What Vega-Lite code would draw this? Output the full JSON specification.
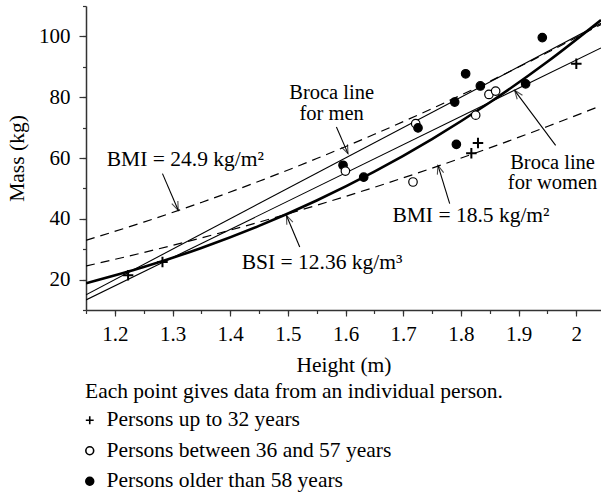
{
  "$schema": "https://vega.github.io/schema/vega-lite/v6.json",
  "width": 515,
  "height": 304,
  "autosize": {"type": "none"},
  "padding": {"left": 86, "top": 6, "right": 0, "bottom": 184},
  "background": "white",
  "datasets": {
    "curves": [
      {"s": "BMI 24.9", "h": 1.15, "m": 32.93}, {"s": "BMI 24.9", "h": 1.25, "m": 38.91}, {"s": "BMI 24.9", "h": 1.35, "m": 45.38}, {"s": "BMI 24.9", "h": 1.45, "m": 52.35}, {"s": "BMI 24.9", "h": 1.55, "m": 59.82}, {"s": "BMI 24.9", "h": 1.65, "m": 67.79}, {"s": "BMI 24.9", "h": 1.75, "m": 76.26}, {"s": "BMI 24.9", "h": 1.85, "m": 85.22}, {"s": "BMI 24.9", "h": 1.95, "m": 94.68}, {"s": "BMI 24.9", "h": 2.043, "m": 103.93},
      {"s": "BMI 18.5", "h": 1.15, "m": 24.47}, {"s": "BMI 18.5", "h": 1.25, "m": 28.91}, {"s": "BMI 18.5", "h": 1.35, "m": 33.72}, {"s": "BMI 18.5", "h": 1.45, "m": 38.9}, {"s": "BMI 18.5", "h": 1.55, "m": 44.45}, {"s": "BMI 18.5", "h": 1.65, "m": 50.37}, {"s": "BMI 18.5", "h": 1.75, "m": 56.66}, {"s": "BMI 18.5", "h": 1.85, "m": 63.32}, {"s": "BMI 18.5", "h": 1.95, "m": 70.35}, {"s": "BMI 18.5", "h": 2.043, "m": 77.22},
      {"s": "BSI", "h": 1.15, "m": 18.8}, {"s": "BSI", "h": 1.25, "m": 24.14}, {"s": "BSI", "h": 1.35, "m": 30.41}, {"s": "BSI", "h": 1.45, "m": 37.68}, {"s": "BSI", "h": 1.55, "m": 46.03}, {"s": "BSI", "h": 1.65, "m": 55.52}, {"s": "BSI", "h": 1.75, "m": 66.24}, {"s": "BSI", "h": 1.85, "m": 78.26}, {"s": "BSI", "h": 1.95, "m": 91.65}, {"s": "BSI", "h": 2.043, "m": 105.39},
      {"s": "Broca men", "h": 1.15, "m": 15.0}, {"s": "Broca men", "h": 2.043, "m": 104.3},
      {"s": "Broca women", "h": 1.15, "m": 13.3}, {"s": "Broca women", "h": 2.043, "m": 96.2}
    ],
    "arrows": [
      {"lab": "a1", "h1": 1.2826, "m1": 54.86, "h2": 1.3099, "m2": 42.8},
      {"lab": "a2", "h1": 1.5842, "m1": 70.18, "h2": 1.6043, "m2": 61.43},
      {"lab": "a3", "h1": 1.5206, "m1": 30.7, "h2": 1.4976, "m2": 41.1},
      {"lab": "a4", "h1": 1.7806, "m1": 45.0, "h2": 1.7603, "m2": 57.58},
      {"lab": "a5", "h1": 1.9643, "m1": 64.16, "h2": 1.8932, "m2": 82.25}
    ],
    "labels": [
      {"t": "BMI = 24.9 kg/m²", "h": 1.186, "m": 57.25, "pos": "left"},
      {"t": "BSI = 12.36 kg/m³", "h": 1.42, "m": 23.6, "pos": "left"},
      {"t": "BMI = 18.5 kg/m²", "h": 1.6813, "m": 38.94, "pos": "left"},
      {"t": "Broca line\nfor men", "h": 1.576, "m": 79.3, "pos": "center"},
      {"t": "Broca line\nfor women", "h": 1.959, "m": 56.5, "pos": "center"}
    ],
    "pts": [
      {"g": "Persons up to 32 years", "h": 1.223, "m": 21.4},
      {"g": "Persons up to 32 years", "h": 1.2826, "m": 25.8},
      {"g": "Persons up to 32 years", "h": 1.8297, "m": 64.9},
      {"g": "Persons up to 32 years", "h": 1.8182, "m": 61.6},
      {"g": "Persons up to 32 years", "h": 2.0002, "m": 91.0},
      {"g": "Persons older than 58 years", "h": 1.5957, "m": 57.6},
      {"g": "Persons between 36 and 57 years", "h": 1.5998, "m": 55.7},
      {"g": "Persons between 36 and 57 years", "h": 1.7217, "m": 71.3},
      {"g": "Persons older than 58 years", "h": 1.7257, "m": 69.9},
      {"g": "Persons between 36 and 57 years", "h": 1.717, "m": 52.1},
      {"g": "Persons between 36 and 57 years", "h": 1.8257, "m": 74.1},
      {"g": "Persons between 36 and 57 years", "h": 1.8487, "m": 80.9},
      {"g": "Persons between 36 and 57 years", "h": 1.8603, "m": 82.0},
      {"g": "Persons older than 58 years", "h": 1.6315, "m": 53.7},
      {"g": "Persons older than 58 years", "h": 1.7922, "m": 64.5},
      {"g": "Persons older than 58 years", "h": 1.7893, "m": 78.4},
      {"g": "Persons older than 58 years", "h": 1.8083, "m": 87.7},
      {"g": "Persons older than 58 years", "h": 1.8338, "m": 83.7},
      {"g": "Persons older than 58 years", "h": 1.9123, "m": 84.4},
      {"g": "Persons older than 58 years", "h": 1.9412, "m": 99.6}
    ]
  },
  "config": {
    "font": "Liberation Serif",
    "view": {"stroke": null},
    "axis": {
      "grid": false,
      "domainColor": "#333333",
      "domainWidth": 1.5,
      "tickColor": "#333333",
      "tickWidth": 1.2,
      "labelFont": "Liberation Serif",
      "labelFontSize": 21,
      "labelColor": "black",
      "titleFont": "Liberation Serif",
      "titleFontSize": 21.5,
      "titleFontWeight": "normal",
      "titleColor": "black"
    },
    "legend": {
      "titleFont": "Liberation Serif",
      "titleFontSize": 21.5,
      "titleFontWeight": "normal",
      "titleColor": "black",
      "titleLimit": 0,
      "labelFont": "Liberation Serif",
      "labelFontSize": 21.5,
      "labelColor": "black",
      "labelLimit": 0,
      "symbolSize": 62,
      "symbolStrokeWidth": 1.6,
      "symbolOffset": -6,
      "labelOffset": 6,
      "padding": 0,
      "rowPadding": 7.5,
      "titlePadding": 7
    }
  },
  "resolve": {"axis": {"x": "independent", "y": "independent"}},
  "layer": [
    {
      "layer": [
        {
          "data": {"name": "curves"},
          "transform": [{"filter": "datum.s == 'BMI 24.9' || datum.s == 'BMI 18.5'"}],
          "mark": {"type": "line", "color": "black", "strokeWidth": 1.2, "strokeDash": [9, 6], "interpolate": "monotone", "clip": true},
          "encoding": {
            "x": {
              "field": "h", "type": "quantitative", "title": "Height (m)",
              "scale": {"domain": [1.15, 2.043], "nice": false, "zero": false},
              "axis": {
                "orient": "bottom",
                "values": [1.2, 1.3, 1.4, 1.5, 1.6, 1.7, 1.8, 1.9, 2.0],
                "format": "~g",
                "tickSize": 6,
                "labelPadding": 7,
                "titlePadding": 10,
                "labelFlush": false,
                "labelOverlap": false
              }
            },
            "y": {
              "field": "m", "type": "quantitative", "title": "Mass (kg)",
              "scale": {"domain": [10, 110], "nice": false, "zero": false},
              "axis": {
                "orient": "left",
                "values": [20, 40, 60, 80, 100],
                "tickSize": 7,
                "labelPadding": 9,
                "titlePadding": 10,
                "labelFlush": false,
                "labelOverlap": false
              }
            },
            "detail": {"field": "s"}
          }
        },
        {
          "data": {"name": "curves"},
          "transform": [{"filter": "datum.s == 'Broca men' || datum.s == 'Broca women'"}],
          "mark": {"type": "line", "color": "black", "strokeWidth": 1.1, "clip": true},
          "encoding": {
            "x": {"field": "h", "type": "quantitative", "title": "Height (m)"},
            "y": {"field": "m", "type": "quantitative", "title": "Mass (kg)"},
            "detail": {"field": "s"}
          }
        },
        {
          "data": {"name": "curves"},
          "transform": [{"filter": "datum.s == 'BSI'"}],
          "mark": {"type": "line", "color": "black", "strokeWidth": 2.6, "interpolate": "monotone", "clip": true},
          "encoding": {
            "x": {"field": "h", "type": "quantitative", "title": "Height (m)"},
            "y": {"field": "m", "type": "quantitative", "title": "Mass (kg)"}
          }
        },
        {
          "data": {"name": "arrows"},
          "mark": {"type": "rule", "color": "black", "strokeWidth": 1.1},
          "encoding": {
            "x": {"field": "h1", "type": "quantitative", "title": "Height (m)"},
            "y": {"field": "m1", "type": "quantitative", "title": "Mass (kg)"},
            "x2": {"field": "h2"},
            "y2": {"field": "m2"}
          }
        },
        {
          "data": {"name": "arrows"},
          "transform": [{"filter": "datum.lab == 'a1'"}],
          "mark": {"type": "point", "shape": "M-0.38,1L0,0L0.38,1", "angle": 157, "size": 300, "filled": false, "stroke": "black", "strokeWidth": 1.1},
          "encoding": {"x": {"field": "h2", "type": "quantitative", "title": "Height (m)"}, "y": {"field": "m2", "type": "quantitative", "title": "Mass (kg)"}}
        },
        {
          "data": {"name": "arrows"},
          "transform": [{"filter": "datum.lab == 'a2'"}],
          "mark": {"type": "point", "shape": "M-0.38,1L0,0L0.38,1", "angle": 156, "size": 300, "filled": false, "stroke": "black", "strokeWidth": 1.1},
          "encoding": {"x": {"field": "h2", "type": "quantitative", "title": "Height (m)"}, "y": {"field": "m2", "type": "quantitative", "title": "Mass (kg)"}}
        },
        {
          "data": {"name": "arrows"},
          "transform": [{"filter": "datum.lab == 'a3'"}],
          "mark": {"type": "point", "shape": "M-0.38,1L0,0L0.38,1", "angle": 337, "size": 300, "filled": false, "stroke": "black", "strokeWidth": 1.1},
          "encoding": {"x": {"field": "h2", "type": "quantitative", "title": "Height (m)"}, "y": {"field": "m2", "type": "quantitative", "title": "Mass (kg)"}}
        },
        {
          "data": {"name": "arrows"},
          "transform": [{"filter": "datum.lab == 'a4'"}],
          "mark": {"type": "point", "shape": "M-0.38,1L0,0L0.38,1", "angle": 343, "size": 300, "filled": false, "stroke": "black", "strokeWidth": 1.1},
          "encoding": {"x": {"field": "h2", "type": "quantitative", "title": "Height (m)"}, "y": {"field": "m2", "type": "quantitative", "title": "Mass (kg)"}}
        },
        {
          "data": {"name": "arrows"},
          "transform": [{"filter": "datum.lab == 'a5'"}],
          "mark": {"type": "point", "shape": "M-0.38,1L0,0L0.38,1", "angle": 323, "size": 300, "filled": false, "stroke": "black", "strokeWidth": 1.1},
          "encoding": {"x": {"field": "h2", "type": "quantitative", "title": "Height (m)"}, "y": {"field": "m2", "type": "quantitative", "title": "Mass (kg)"}}
        },
        {
          "data": {"name": "labels"},
          "transform": [{"filter": "datum.pos == 'left'"}],
          "mark": {"type": "text", "font": "Liberation Serif", "fontSize": 21.5, "color": "black", "align": "left", "baseline": "alphabetic"},
          "encoding": {
            "x": {"field": "h", "type": "quantitative", "title": "Height (m)"},
            "y": {"field": "m", "type": "quantitative", "title": "Mass (kg)"},
            "text": {"field": "t"}
          }
        },
        {
          "data": {"name": "labels"},
          "transform": [{"filter": "datum.pos == 'center'"}],
          "mark": {"type": "text", "font": "Liberation Serif", "fontSize": 20.5, "color": "black", "align": "center", "baseline": "alphabetic", "lineBreak": "\n", "lineHeight": 20.5},
          "encoding": {
            "x": {"field": "h", "type": "quantitative", "title": "Height (m)"},
            "y": {"field": "m", "type": "quantitative", "title": "Mass (kg)"},
            "text": {"field": "t"}
          }
        },
        {
          "data": {"name": "pts"},
          "transform": [{"filter": "datum.g == 'Persons up to 32 years'"}],
          "mark": {"type": "point", "size": 110, "strokeWidth": 2, "opacity": 1},
          "encoding": {
            "x": {"field": "h", "type": "quantitative", "title": "Height (m)"},
            "y": {"field": "m", "type": "quantitative", "title": "Mass (kg)"},
            "shape": {
              "field": "g", "type": "nominal", "title": "Each point gives data from an individual person.",
              "scale": {"domain": ["Persons up to 32 years", "Persons between 36 and 57 years", "Persons older than 58 years"], "range": ["M-1,0H1M0,-1V1", "circle", "circle"]},
              "legend": {"orient": "none", "legendX": -1, "legendY": 375, "direction": "vertical", "titleAnchor": "start"}
            },
            "fill": {
              "field": "g", "type": "nominal", "title": "Each point gives data from an individual person.",
              "scale": {"domain": ["Persons up to 32 years", "Persons between 36 and 57 years", "Persons older than 58 years"], "range": ["black", "white", "black"]},
              "legend": {"orient": "none", "legendX": -1, "legendY": 375, "direction": "vertical", "titleAnchor": "start"}
            },
            "stroke": {
              "field": "g", "type": "nominal", "title": "Each point gives data from an individual person.",
              "scale": {"domain": ["Persons up to 32 years", "Persons between 36 and 57 years", "Persons older than 58 years"], "range": ["black", "black", "black"]},
              "legend": {"orient": "none", "legendX": -1, "legendY": 375, "direction": "vertical", "titleAnchor": "start"}
            }
          }
        },
        {
          "data": {"name": "pts"},
          "transform": [{"filter": "datum.g != 'Persons up to 32 years'"}],
          "mark": {"type": "point", "size": 72, "strokeWidth": 1.2, "opacity": 1},
          "encoding": {
            "x": {"field": "h", "type": "quantitative", "title": "Height (m)"},
            "y": {"field": "m", "type": "quantitative", "title": "Mass (kg)"},
            "shape": {"field": "g", "type": "nominal", "title": "Each point gives data from an individual person."},
            "fill": {"field": "g", "type": "nominal", "title": "Each point gives data from an individual person."},
            "stroke": {"field": "g", "type": "nominal", "title": "Each point gives data from an individual person."}
          }
        },
        {
          "mark": {"type": "rule", "color": "#333333", "strokeWidth": 1.5},
          "encoding": {"y": {"datum": 110, "type": "quantitative", "title": "Mass (kg)"}}
        }
      ]
    },
    {
      "data": {"name": "pts"},
      "mark": {"type": "point", "opacity": 0},
      "encoding": {
        "x": {
          "field": "h", "type": "quantitative",
          "axis": {"orient": "bottom", "title": null, "labels": false, "domain": false, "tickSize": 3.5,
            "values": [1.15, 1.2, 1.25, 1.3, 1.35, 1.4, 1.45, 1.5, 1.55, 1.6, 1.65, 1.7, 1.75, 1.8, 1.85, 1.9, 1.95, 2.0]}
        },
        "y": {
          "field": "m", "type": "quantitative",
          "axis": {"orient": "left", "title": null, "labels": false, "domain": false, "tickSize": 3.5,
            "values": [10, 20, 30, 40, 50, 60, 70, 80, 90, 100, 110]}
        }
      }
    }
  ]
}
